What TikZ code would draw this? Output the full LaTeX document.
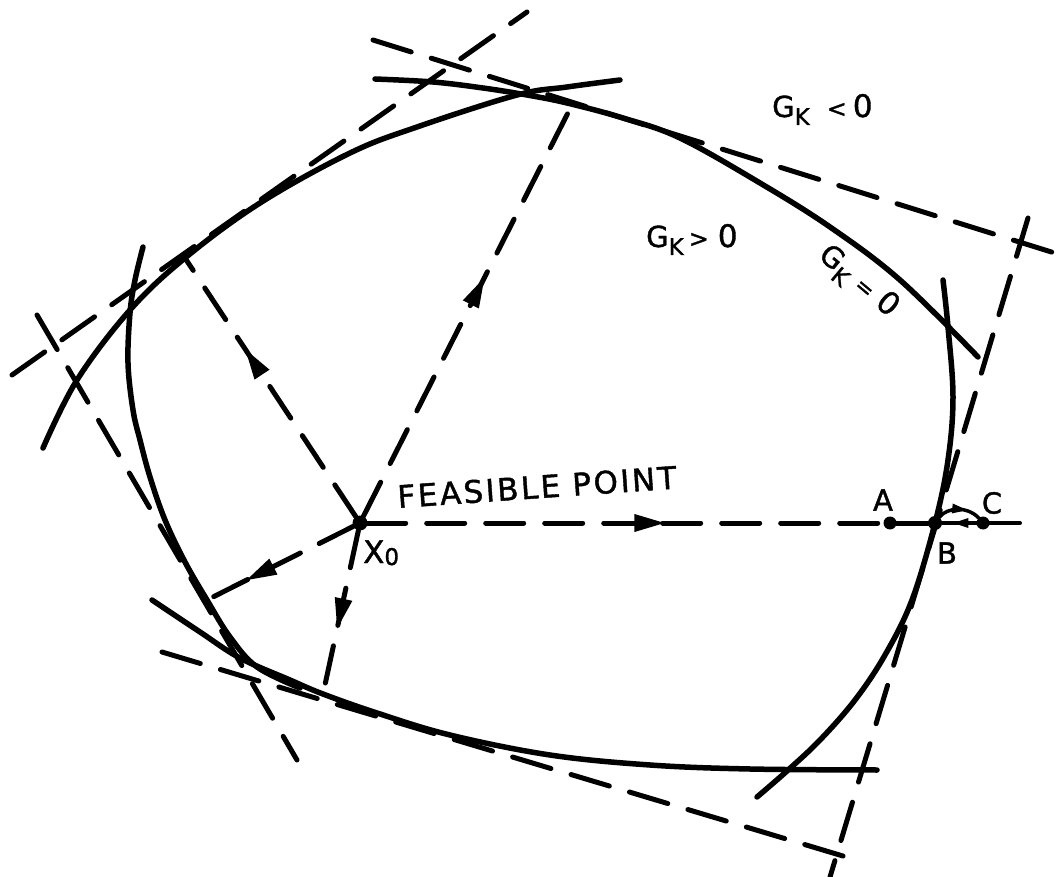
\documentclass[tikz,border=0pt]{standalone}
\usepackage{fontspec}
\setmainfont[FakeBold=1.3]{DejaVu Sans}
\usetikzlibrary{decorations.markings}
\tikzset{
  curve/.style={line width=5.5pt, line cap=round, line join=round},
  tline/.style={line width=5pt, line cap=round, dash pattern=on 40pt off 21pt},
  ray/.style={line width=5pt, line cap=round, dash pattern=on 38pt off 21pt},
  head/.style={postaction={decorate, decoration={markings,
      mark=at position #1 with {\fill[solid] (8pt,0pt) -- (-22pt,9pt) -- (-22pt,-9pt) -- cycle;}}}},
  smallhead/.style={postaction={decorate, decoration={markings,
      mark=at position #1 with {\fill[solid] (6pt,0pt) -- (-9pt,5pt) -- (-9pt,-5pt) -- cycle;}}}},
  dot/.style={circle, fill=black, inner sep=0pt, minimum size=#1},
  lab/.style={inner sep=0pt, font=\fontsize{29}{29}\selectfont},
}
\newcommand{\subK}{\raisebox{-8pt}{\fontsize{23}{23}\selectfont K}}
\begin{document}
\begin{tikzpicture}[x=1pt,y=-1pt]
\useasboundingbox (0,0) rectangle (1061,877);
% points
\node[dot=15pt] (X0) at (360,523) {};
\node[dot=13pt] (A) at (890,523) {};
\node[dot=14pt] (B) at (935,523) {};
\node[dot=13pt] (C) at (983,523) {};
\coordinate (E) at (1020,523);
\coordinate (P1) at (185,258);
\coordinate (P2) at (573,103);
\coordinate (P4) at (323,694);
\coordinate (P5) at (207,600);
% tangent line ends
\coordinate (T1a) at (12,375);  \coordinate (T1b) at (527,12);
\coordinate (T2a) at (373,40);  \coordinate (T2b) at (1061,255);
\coordinate (T3a) at (1028,218); \coordinate (T3b) at (830,877);
\coordinate (T4a) at (162,652); \coordinate (T4b) at (863,862);
\coordinate (T5a) at (37,315);  \coordinate (T5b) at (297,760);

% solid constraint curves
\draw[curve] plot[smooth, tension=0.6] coordinates {(43,448) (77,380) (130,310) (185,258) (260,203) (350,153) (417,127) (517,95) (567,87) (620,80)};
\draw[curve] plot[smooth, tension=0.6] coordinates {(375,79) (433,82) (483,88) (527,95) (567,103) (623,118) (680,138) (760,183) (830,227) (900,280) (978,357)};
\draw[curve] plot[smooth, tension=0.6] coordinates {(943,280) (948,327) (953,397) (948,460) (935,523) (912,600) (885,655) (855,700) (820,740) (787,771) (757,797)};
\draw[curve] plot[smooth, tension=0.6] coordinates {(152,600) (200,632) (240,658) (290,680) (323,694) (377,713) (450,735) (550,755) (650,765) (750,769) (877,770)};
\draw[curve] plot[smooth, tension=0.6] coordinates {(143,247) (135,280) (130,313) (128,363) (133,410) (140,440) (150,477) (165,520) (185,562) (207,600) (230,637) (257,667) (300,688)};

% dashed tangent lines
\draw[tline] (T1a) -- (T1b);
\draw[tline] (T2a) -- (T2b);
\draw[tline] (T3a) -- (T3b);
\draw[tline] (T4a) -- (T4b);
\draw[tline] (T5a) -- (T5b);

% rays from X0
\draw[ray, head=0.62] (X0) -- (P1);
\draw[ray, head=0.56] (X0) -- (P2);
\draw[ray, head=0.56] (X0) -- (A);
\draw[ray] (A) -- (B);
\draw[ray, head=0.68] (X0) -- (P5);
\draw[ray, head=0.55] (X0) -- (P4);
% B - C
\draw[line width=3.5pt, line cap=round, smallhead=0.55] (B) .. controls (947,507) and (968,506) .. (C);
\draw[line width=3.5pt, line cap=round, smallhead=0.5] (C) -- (B);
\draw[line width=4pt, line cap=round] (C) -- (E);

% labels
\node[lab, rotate=4, font=\fontsize{31}{31}\selectfont\addfontfeature{LetterSpace=8}] (fp) at (537,487) {FEASIBLE POINT};
\node[lab, anchor=base west] (x0l) at (363,563) {\fontsize{31}{31}\selectfont X\raisebox{-2pt}{\fontsize{23}{23}\selectfont 0}};
\node[lab] (la) at (883,500) {A};
\node[lab] (lb) at (947,553) {B};
\node[lab] (lc) at (992,503) {C};
\node[lab, anchor=base west] (glt) at (772,117) {G\subK\hspace{17pt}{\fontsize{24}{24}\selectfont <}\hspace{6pt}{\fontsize{31}{31}\selectfont 0}};
\node[lab, anchor=base west] (ggt) at (646,247) {G\subK\hspace{5pt}{\fontsize{24}{24}\selectfont >}\hspace{9pt}{\fontsize{31}{31}\selectfont 0}};
\node[lab, rotate=-40] (geq) at (858,282) {G\subK\hspace{9pt}{\fontsize{22}{22}\selectfont =}\hspace{9pt}{\fontsize{31}{31}\selectfont 0}};
\end{tikzpicture}
\end{document}
